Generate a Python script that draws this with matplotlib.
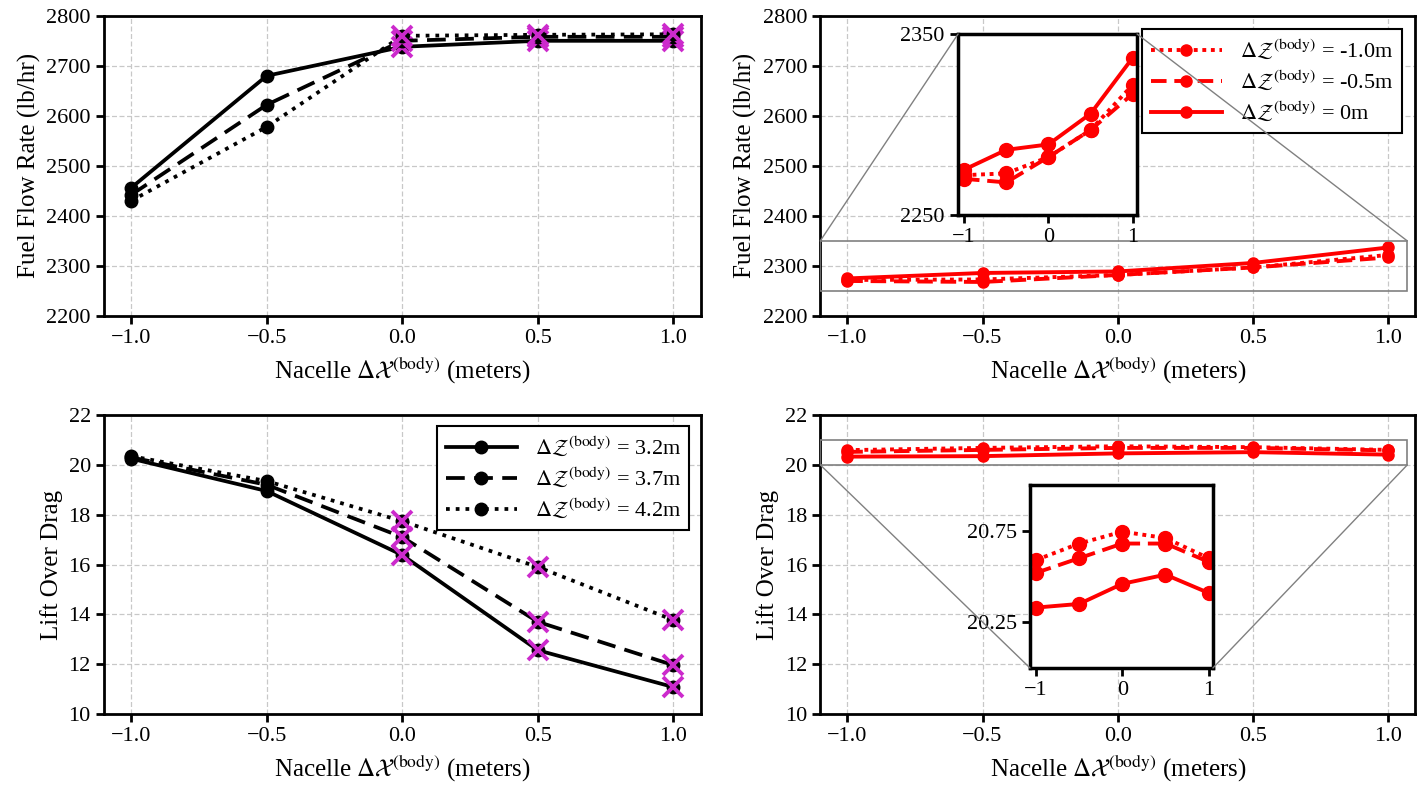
import numpy as np
import matplotlib
matplotlib.use('Agg')
from matplotlib import pyplot as plt
from matplotlib.patches import Rectangle, ConnectionPatch

plt.rcParams['font.family'] = ['Liberation Serif', 'DejaVu Serif']
plt.rcParams['mathtext.fontset'] = 'stix'
plt.rcParams['axes.linewidth'] = 2.0

# data
dx = np.array([-1.0, -0.5, 0.0, 0.5, 1.0])

# left column: dZ = 3.2, 3.7, 4.2 m
fuel_32 = np.array([2456, 2680, 2738, 2750, 2750])
fuel_37 = np.array([2442, 2622, 2750, 2758, 2758])
fuel_42 = np.array([2430, 2578, 2760, 2762, 2763])
ld_32 = np.array([20.25, 18.95, 16.38, 12.56, 11.08])
ld_37 = np.array([20.30, 19.20, 17.10, 13.70, 11.96])
ld_42 = np.array([20.35, 19.35, 17.74, 15.90, 13.77])
flag_idx = [2, 3, 4]  # points marked with magenta x

# right column: dZ = -1.0, -0.5, 0 m
fuel_m10 = np.array([2272, 2273, 2282, 2297, 2322])
fuel_m05 = np.array([2270, 2268, 2282, 2297, 2317])
fuel_0 = np.array([2275, 2286, 2289, 2306, 2337])
ld_m10 = np.array([20.59, 20.68, 20.745, 20.71, 20.60])
ld_m05 = np.array([20.52, 20.60, 20.68, 20.68, 20.58])
ld_0 = np.array([20.33, 20.35, 20.46, 20.51, 20.41])

left_labels = [r'$\Delta\mathcal{Z}^{(\mathrm{body})}$ = 3.2m',
               r'$\Delta\mathcal{Z}^{(\mathrm{body})}$ = 3.7m',
               r'$\Delta\mathcal{Z}^{(\mathrm{body})}$ = 4.2m']
right_labels = [r'$\Delta\mathcal{Z}^{(\mathrm{body})}$ = -1.0m',
                r'$\Delta\mathcal{Z}^{(\mathrm{body})}$ = -0.5m',
                r'$\Delta\mathcal{Z}^{(\mathrm{body})}$ = 0m']
xlabel = r'Nacelle $\Delta\mathcal{X}^{(\mathrm{body})}$ (meters)'

fig = plt.figure(figsize=(14.24, 7.89), dpi=100)
ax1 = fig.add_axes([0.073, 0.5995, 0.419, 0.3805])
ax2 = fig.add_axes([0.576, 0.5995, 0.418, 0.3805])
ax3 = fig.add_axes([0.073, 0.095, 0.419, 0.379])
ax4 = fig.add_axes([0.576, 0.095, 0.418, 0.379])

styles = ['-', (0, (5, 2.5)), (0, (1, 1.6))]
magenta = '#cc2acc'
TICK_FS = 16
LAB_FS = 18


def style_main(ax, ylim, yticks, ylabel):
    ax.set_xlim(-1.1, 1.1)
    ax.set_ylim(*ylim)
    ax.set_xticks(dx)
    ax.set_xticklabels(['\u22121.0', '\u22120.5', '0.0', '0.5', '1.0'])
    ax.set_yticks(yticks)
    ax.grid(True, ls=(0, (4, 2)), color='#c8c8c8', lw=0.9)
    ax.set_axisbelow(True)
    ax.tick_params(direction='out', length=6, width=2, labelsize=TICK_FS)
    ax.set_xlabel(xlabel, fontsize=LAB_FS)
    ax.set_ylabel(ylabel, fontsize=LAB_FS)


# top-left
for y, ls, lab in zip([fuel_32, fuel_37, fuel_42], styles, left_labels):
    ax1.plot(dx, y, c='k', ls=ls, lw=2.7, marker='o', ms=9, label=lab)
    ax1.plot(dx[flag_idx], y[flag_idx], ls='none', marker='x', ms=14, mew=2.8, c=magenta)
style_main(ax1, (2200, 2800), np.arange(2200, 2801, 100), 'Fuel Flow Rate (lb/hr)')

# bottom-left
hs = []
for y, ls, lab in zip([ld_32, ld_37, ld_42], styles, left_labels):
    h, = ax3.plot(dx, y, c='k', ls=ls, lw=2.7, marker='o', ms=9, label=lab)
    hs.append(h)
    ax3.plot(dx[flag_idx], y[flag_idx], ls='none', marker='x', ms=14, mew=2.8, c=magenta)
style_main(ax3, (10, 22), np.arange(10, 23, 2), 'Lift Over Drag')
leg = ax3.legend(handles=hs, loc='upper right', fontsize=16, fancybox=False,
                 edgecolor='k', framealpha=1, handlelength=3.2, borderaxespad=0.5,
                 labelspacing=0.3)
leg.get_frame().set_linewidth(1.5)

# right column
rstyles = [(0, (1, 1.2)), (0, (4, 2)), '-']
panels = [
    (ax2, [fuel_m10, fuel_m05, fuel_0], (2200, 2800), np.arange(2200, 2801, 100),
     'Fuel Flow Rate (lb/hr)', [0.6728, 0.7275, 0.1257, 0.2294], (2250, 2350), [2250, 2350],
     [((0, 1), 1), ((1, 1), 1)]),
    (ax4, [ld_m10, ld_m05, ld_0], (10, 22), np.arange(10, 23, 2),
     'Lift Over Drag', [0.7233, 0.1534, 0.1285, 0.2319], (20.0, 21.0), [20.25, 20.75],
     [((0, 0), 0), ((1, 0), 0)]),
]
for ax, series, ylim, yticks, ylabel, ins_pos, ins_ylim, ins_ticks, links in panels:
    hs = []
    for y, ls, lab in zip(series, rstyles, right_labels):
        h, = ax.plot(dx, y, c='red', ls=ls, lw=2.8, marker='o', ms=8, label=lab)
        hs.append(h)
    style_main(ax, ylim, yticks, ylabel)

    axins = fig.add_axes(ins_pos)
    for y, ls in zip(series, rstyles):
        axins.plot(dx, y, c='red', ls=ls, lw=2.8, marker='o', ms=10)
    axins.set_xlim(-1.07, 1.05)
    axins.set_ylim(*ins_ylim)
    axins.set_xticks([-1, 0, 1])
    axins.set_xticklabels(['\u22121', '0', '1'])
    axins.set_yticks(ins_ticks)
    axins.set_yticklabels([str(t) for t in ins_ticks])
    axins.tick_params(direction='out', length=6, width=2, labelsize=TICK_FS)
    for s in axins.spines.values():
        s.set_linewidth(2.5)

    # zoom box and connector lines
    rx0, rx1 = -1.1, 1.07
    ax.add_patch(Rectangle((rx0, ins_ylim[0]), rx1 - rx0, ins_ylim[1] - ins_ylim[0],
                           fill=False, ec='#808080', lw=1.2, zorder=5))
    for (cx, cy), yi in links:
        xa = rx0 if cx == 0 else rx1
        con = ConnectionPatch(xyA=(xa, ins_ylim[yi]), coordsA=ax.transData,
                              xyB=(cx, cy), coordsB=axins.transAxes,
                              color='#808080', lw=1.0)
        fig.add_artist(con)

    if ax is ax2:
        leg = ax.legend(handles=hs, loc='upper right', fontsize=16, fancybox=False,
                        edgecolor='k', framealpha=1, handlelength=3.2, borderaxespad=0.6,
                        labelspacing=0.3)
        leg.get_frame().set_linewidth(1.5)

fig.savefig('out.png', dpi=100)
